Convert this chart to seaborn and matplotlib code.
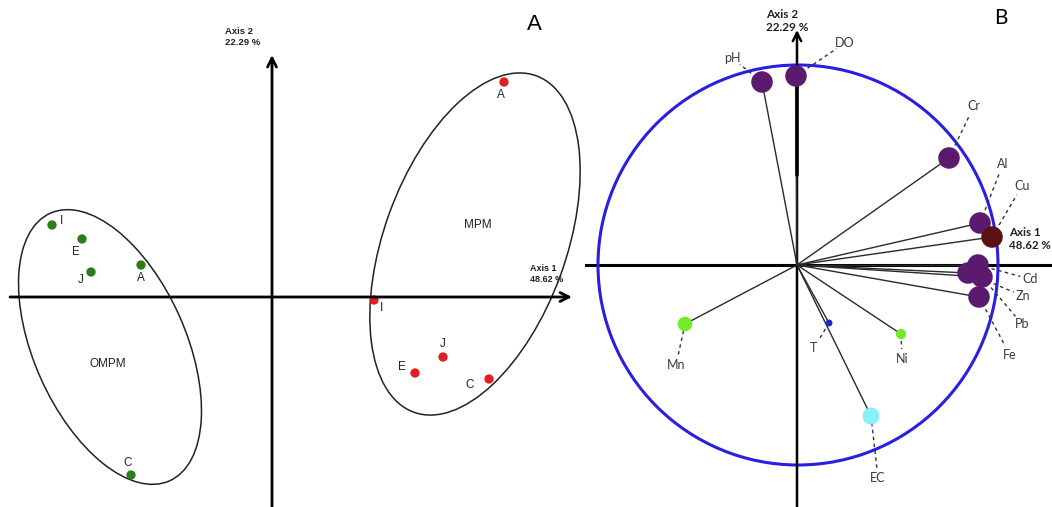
import numpy as np
import pandas as pd
import matplotlib
matplotlib.use("Agg")
import matplotlib.pyplot as plt
from matplotlib.patches import Ellipse, Circle
import seaborn as sns

# ---------------- data ----------------
# Panel A: site scores on the first two factorial axes
omp_sites = ["I", "E", "J", "A", "C"]
omp_ax1 = [-2.20, -1.90, -1.81, -1.31, -1.41]
omp_ax2 = [0.72, 0.58, 0.25, 0.32, -1.78]

mp_sites = ["A", "I", "J", "E", "C"]
mp_ax1 = [2.32, 1.02, 1.71, 1.43, 2.17]
mp_ax2 = [2.15, -0.03, -0.60, -0.76, -0.82]

# Panel B: variable loadings (correlation circle)
variables = ["pH", "DO", "Cr", "Al", "Cu", "Cd", "Zn", "Pb", "Fe", "Mn", "T", "Ni", "EC"]
load_ax1 = [-0.175, -0.005, 0.76, 0.915, 0.975, 0.905, 0.855, 0.925, 0.91, -0.56, 0.16, 0.52, 0.37]
load_ax2 = [0.915, 0.945, 0.535, 0.21, 0.14, 0.0, -0.04, -0.06, -0.16, -0.295, -0.29, -0.345, -0.755]

axis1_label = "Axis 1\n48.62 %"
axis2_label = "Axis 2\n22.29 %"

# ---------------- styling ----------------
sns.set_style("white")
plt.rcParams["font.family"] = ["Liberation Sans", "DejaVu Sans"]

fig = plt.figure(figsize=(10.52, 5.07), dpi=100)
W, H = 1052, 507

# ================= Panel A =================
axA = fig.add_axes([0, 0, 585 / W, 1])
axA.set_xlim(-2.72, 3.13)
axA.set_ylim(-2.10, 2.97)
axA.set_axis_off()

arrow_kw = dict(arrowstyle="->", lw=2.0, color="black", mutation_scale=16,
                shrinkA=0, shrinkB=0)
axA.annotate("", xy=(3.00, 0), xytext=(-2.62, 0), arrowprops=arrow_kw)
axA.annotate("", xy=(0, 2.42), xytext=(0, -2.10), arrowprops=arrow_kw)

axA.add_patch(Ellipse((-1.62, -0.50), 1.52, 2.93, angle=24, fill=False,
                      lw=1.1, ec="#222222"))
axA.add_patch(Ellipse((2.03, 0.53), 1.82, 3.58, angle=-20, fill=False,
                      lw=1.1, ec="#222222"))

dfA = pd.DataFrame({
    "ax1": omp_ax1 + mp_ax1,
    "ax2": omp_ax2 + mp_ax2,
    "site": omp_sites + mp_sites,
    "group": ["OMPM"] * len(omp_sites) + ["MPM"] * len(mp_sites),
})
sns.scatterplot(data=dfA, x="ax1", y="ax2", hue="group",
                palette={"OMPM": "#2e7d18", "MPM": "#e02020"},
                s=45, edgecolor="none", legend=False, ax=axA)

# label offsets in pixels (dx right, dy up)
label_off_A = {
    ("OMPM", "I"): (9, 4), ("OMPM", "E"): (-6, -13), ("OMPM", "J"): (-10, -8),
    ("OMPM", "A"): (0, -13), ("OMPM", "C"): (-3, 12),
    ("MPM", "A"): (-3, -13), ("MPM", "I"): (7, -8), ("MPM", "J"): (0, 13),
    ("MPM", "E"): (-13, 6), ("MPM", "C"): (-19, -6),
}
for _, r in dfA.iterrows():
    dx, dy = label_off_A[(r["group"], r["site"])]
    axA.annotate(r["site"], (r["ax1"], r["ax2"]), xytext=(dx, dy),
                 textcoords="offset pixels", ha="center", va="center",
                 fontsize=8.5, color="#222222")

axA.text(-1.64, -0.67, "OMPM", ha="center", va="center", fontsize=8.5, color="#222222")
axA.text(2.06, 0.72, "MPM", ha="center", va="center", fontsize=8.5, color="#222222")
axA.text(2.58, 0.33, axis1_label, ha="left", va="top", fontsize=6.5,
         fontweight="bold", color="#222222", linespacing=1.3)
axA.text(-0.47, 2.70, axis2_label, ha="left", va="top", fontsize=6.8,
         fontweight="bold", color="#222222", linespacing=1.3)
axA.text(2.62, 2.72, "A", ha="center", va="center", fontsize=16, color="black")

# ================= Panel B =================
axB = fig.add_axes([585 / W, 0, 467 / W, 1])
axB.set_xlim(-1.06, 1.275)
axB.set_ylim(-1.21, 1.325)
axB.set_axis_off()

axB.plot([-1.06, 1.275], [0, 0], color="black", lw=2.2, zorder=1)
axB.annotate("", xy=(0, 1.175), xytext=(0, -1.21),
             arrowprops=dict(arrowstyle="->", lw=1.8, color="black",
                             mutation_scale=15, shrinkA=0, shrinkB=0))
axB.add_patch(Circle((0.005, 0), 1.0, fill=False, ec="#2a1fe0", lw=2.2, zorder=2))

purple = "#5b1a6d"
var_colors = {v: purple for v in variables}
var_colors.update({"Cu": "#5a1212", "Mn": "#72ec2a", "Ni": "#72ec2a",
                   "T": "#2323d0", "EC": "#8cf0fa"})
var_sizes = {v: 240 for v in variables}
var_sizes.update({"Mn": 110, "Ni": 55, "T": 25, "EC": 150})

dfB = pd.DataFrame({"var": variables, "ax1": load_ax1, "ax2": load_ax2})

for _, r in dfB.iterrows():
    axB.plot([0, r["ax1"]], [0, r["ax2"]], color="#2a2a2a", lw=1.0, zorder=3)
axB.plot([0, 0], [0.45, 0.9], color="black", lw=2.6, zorder=3)

sns.scatterplot(data=dfB, x="ax1", y="ax2", hue="var", palette=var_colors,
                size="var", sizes=var_sizes, edgecolor="none", legend=False,
                ax=axB, zorder=4)

label_pos_B = {
    "pH": (-0.325, 1.035), "DO": (0.24, 1.11), "Cr": (0.885, 0.795),
    "Al": (1.03, 0.505), "Cu": (1.125, 0.395), "Cd": (1.165, -0.07),
    "Zn": (1.13, -0.155), "Pb": (1.125, -0.295), "Fe": (1.065, -0.45),
    "Mn": (-0.605, -0.5), "T": (0.085, -0.415), "Ni": (0.525, -0.47),
    "EC": (0.405, -1.065),
}
for _, r in dfB.iterrows():
    lx, ly = label_pos_B[r["var"]]
    x0, y0 = r["ax1"], r["ax2"]
    d = np.hypot(lx - x0, ly - y0)
    ex, ey = lx - (lx - x0) / d * 0.05, ly - (ly - y0) / d * 0.05
    axB.plot([x0, ex], [y0, ey], color="#333333", lw=1.0, ls=(0, (2.5, 2.5)), zorder=3)
    axB.text(lx, ly, r["var"], ha="center", va="center", fontsize=9,
             color="#3a3a3a", family=["Lato", "DejaVu Sans"])

axB.text(1.06, 0.19, axis1_label, ha="left", va="top", fontsize=8.3,
         fontweight="bold", color="#222222", family=["Lato", "DejaVu Sans"])
axB.text(-0.155, 1.28, axis2_label, ha="left", va="top", fontsize=8.5,
         fontweight="bold", color="#222222", family=["Lato", "DejaVu Sans"])
axB.text(1.02, 1.235, "B", ha="center", va="center", fontsize=15,
         color="black", family=["Lato", "DejaVu Sans"])

fig.savefig("out.png", dpi=100)
